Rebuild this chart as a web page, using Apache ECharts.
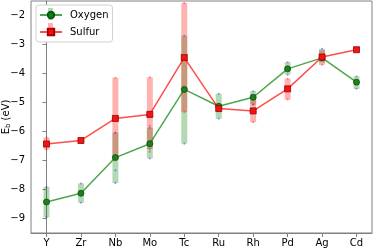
<!DOCTYPE html>
<html>
<head>
<meta charset="utf-8">
<script src="https://cdn.jsdelivr.net/npm/echarts@6/dist/echarts.min.js"></script>
<style>html,body{margin:0;padding:0;background:#fff}#c{width:374px;height:249px}</style>
</head>
<body>
<div id="c"></div>
<script>
const categories = ['Y','Zr','Nb','Mo','Tc','Ru','Rh','Pd','Ag','Cd'];
const yTicks = [-9,-8,-7,-6,-5,-4,-3,-2];
const oxygenE = [-8.43,-8.13,-6.90,-6.42,-4.55,-5.13,-4.82,-3.84,-3.46,-4.30];
const sulfurE = [-6.43,-6.31,-5.55,-5.41,-3.45,-5.21,-5.29,-4.53,-3.43,-3.18];
const oxygenHigh = [-7.91,-7.79,-6.04,-5.87,-2.70,-4.70,-4.61,-3.61,-3.15,-4.10];
const oxygenLow  = [-8.96,-8.46,-7.78,-6.93,-6.42,-5.56,-5.07,-4.04,-3.62,-4.53];
const sulfurHigh = [-6.21,null,-4.15,-4.13,-1.57,null,-4.83,-4.18,-3.20,null];
const sulfurLow  = [-6.62,null,-6.90,-6.60,-5.33,null,-5.68,-4.90,-3.70,null];
const oxygenDots = [[-7.91,-8.96],[-7.79,-8.46],[-6.04,-7.34,-7.78],[-5.87,-6.60,-6.93],[-2.70,-6.42],[-4.70,-5.56],[-4.61,-5.07],[-3.61,-4.04],[-3.15],[-4.10,-4.53]];
const sulfurDots = [[-6.21,-6.62],[],[-4.15,-6.04],[-4.13,-5.80,-6.70],[-1.57,-5.33],[],[-5.07,-5.68],[-4.18,-4.90],[-3.70],[]];

const bandData = (hi, lo) => hi.map((h, i) => h === null ? null : [i, lo[i], h]).filter(d => d);
const dotData = (dots) => dots.flatMap((arr, i) => arr.map(v => [i, v]));
const lineData = (vals) => vals.map((v, i) => [i, v]);

function bandRenderer(color) {
  return function (params, api) {
    const x = api.value(0);
    const p1 = api.coord([x, api.value(2)]);
    const p0 = api.coord([x, api.value(1)]);
    const w = 6;
    return {
      type: 'rect',
      shape: { x: p1[0] - w / 2, y: p1[1], width: w, height: p0[1] - p1[1] },
      style: { fill: color, opacity: 0.3 }
    };
  };
}

const chart = echarts.init(document.getElementById('c'), null, { renderer: 'canvas' });
const font = 'DejaVu Sans';
chart.setOption({
  animation: false,
  backgroundColor: '#fff',
  grid: { left: 31, right: 2, top: 1, bottom: 16, show: true, borderColor: '#808080', borderWidth: 1, containLabel: false, outerBoundsMode: 'none' },
  legend: {
    data: ['Oxygen', 'Sulfur'],
    orient: 'vertical',
    left: 36, top: 5,
    itemWidth: 22, itemHeight: 8, itemGap: 7,
    padding: [5, 4, 5, 3],
    backgroundColor: '#fff',
    borderColor: '#d0d0d0', borderWidth: 1, borderRadius: 3,
    textStyle: { fontFamily: font, fontSize: 10, color: '#000', padding: [0, 0, 0, 3] }
  },
  graphic: [
    { type: 'rect', z: 10, silent: true, shape: { x: 48, y: 8, width: 5, height: 12 }, style: { fill: 'rgba(0,128,0,0.3)' } },
    { type: 'rect', z: 10, silent: true, shape: { x: 48, y: 23, width: 5, height: 12 }, style: { fill: 'rgba(255,0,0,0.3)' } }
  ],
  xAxis: {
    type: 'value', min: -0.45, max: 9.45,
    splitLine: { show: false },
    axisLine: { show: true, lineStyle: { color: '#808080' } },
    axisTick: { show: true, length: 4, lineStyle: { color: '#808080' }, customValues: categories.map((c, i) => i) },
    axisLabel: { fontFamily: font, fontSize: 10, color: '#000', margin: 5, customValues: categories.map((c, i) => i), formatter: v => categories[Math.round(v)] }
  },
  yAxis: {
    type: 'value', min: -9.5, max: -1.5,
    name: 'E{sub|b} (eV)', nameLocation: 'middle', nameRotate: 90, nameGap: 19, nameMoveOverlap: false,
    nameTextStyle: { fontFamily: font, fontSize: 10, color: '#000', rich: { sub: { fontFamily: font, fontSize: 7, verticalAlign: 'bottom', padding: [4, 0, 0, 0] } } },
    splitLine: { show: false },
    axisLine: { show: true, lineStyle: { color: '#808080' } },
    axisTick: { show: true, length: 4, lineStyle: { color: '#808080' }, customValues: yTicks },
    axisLabel: { fontFamily: font, fontSize: 10, color: '#000', margin: 6, showMaxLabel: true, showMinLabel: true, customValues: yTicks, formatter: v => (v < 0 ? '\u2212' + Math.abs(v) : String(v)) }
  },
  series: [
    {
      name: 'Oxygen', type: 'line', data: lineData(oxygenE), z: 5,
      symbol: 'circle', symbolSize: 6,
      lineStyle: { color: 'rgba(0,128,0,0.7)', width: 1.5 },
      itemStyle: { color: '#1f7f1f', borderColor: '#0b4d0b', borderWidth: 0.8 }
    },
    {
      name: 'Sulfur', type: 'line', data: lineData(sulfurE), z: 5,
      symbol: 'rect', symbolSize: 6,
      lineStyle: { color: 'rgba(255,0,0,0.7)', width: 1.5 },
      itemStyle: { color: '#f01515', borderColor: '#a00000', borderWidth: 0.8 }
    },
    { name: 'Oxygen range', type: 'custom', renderItem: bandRenderer('#008000'), data: bandData(oxygenHigh, oxygenLow), z: 1, encode: { x: 0, y: [1, 2] } },
    { name: 'Sulfur range', type: 'custom', renderItem: bandRenderer('#ff0000'), data: bandData(sulfurHigh, sulfurLow), z: 1, encode: { x: 0, y: [1, 2] } },
    { name: 'Oxygen samples', type: 'scatter', data: dotData(oxygenDots), symbolSize: 2, z: 2, itemStyle: { color: 'rgba(40,40,255,0.6)' } },
    { name: 'Sulfur samples', type: 'scatter', data: dotData(sulfurDots), symbolSize: 2, z: 2, itemStyle: { color: 'rgba(255,20,20,0.6)' } }
  ]
});
</script>
</body>
</html>
